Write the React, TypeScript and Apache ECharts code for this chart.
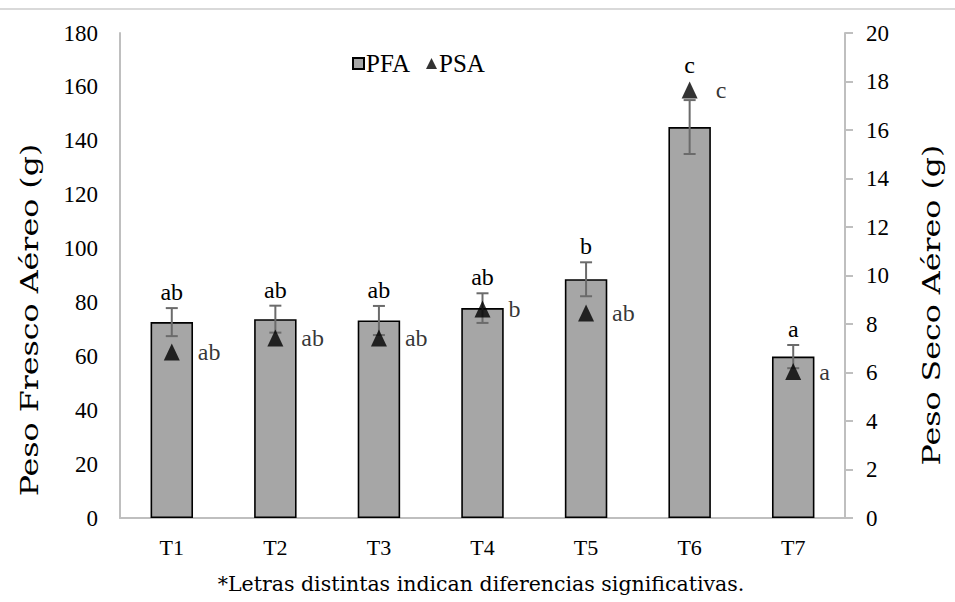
import React, { useEffect, useRef } from "react";
import * as echarts from "echarts";

const categories = ["T1", "T2", "T3", "T4", "T5", "T6", "T7"];
const pfaValues = [72.7, 73.8, 73.3, 77.9, 88.6, 145.1, 59.9];
const pfaErrors = [5.2, 5.0, 5.4, 5.5, 6.3, 10.0, 4.3];
const psaValues = [6.85, 7.42, 7.42, 8.62, 8.45, 17.65, 6.04];
const pfaLetters = ["ab", "ab", "ab", "ab", "b", "c", "a"];
const psaLetters = ["ab", "ab", "ab", "b", "ab", "c", "a"];
const leftTicksMax = 180;
const rightTicksMax = 20;

const SERIF = "Liberation Serif";
const TITLE_FONT = "DejaVu Serif";

export default function App() {
  const ref = useRef<HTMLDivElement>(null);
  useEffect(() => {
    if (!ref.current) return;
    const chart = echarts.init(ref.current, undefined, { renderer: "svg" });
    const ratio = leftTicksMax / rightTicksMax;
    const errData = categories.map((c, i) => [i, pfaValues[i], pfaErrors[i], psaValues[i] * ratio, i]);
    const option: any = {
      animation: false,
      backgroundColor: "#ffffff",
      textStyle: { fontFamily: SERIF },
      grid: { left: 120, right: 110, top: 33, bottom: 84, containLabel: false },
      legend: {
        data: [
          { name: "PFA", icon: "rect" },
          { name: "PSA", icon: "triangle" },
        ],
        left: 347,
        top: 46,
        itemWidth: 11,
        itemHeight: 11,
        itemGap: 16,
        textStyle: { fontFamily: SERIF, fontSize: 25, color: "#000", padding: [0, 0, 0, -3] },
      },
      xAxis: {
        type: "category",
        data: categories,
        axisLine: { show: true, lineStyle: { color: "#bfbfbf", width: 2 } },
        axisTick: { show: false },
        axisLabel: { fontFamily: SERIF, fontSize: 22, color: "#000", margin: 18 },
        splitLine: { show: false },
      },
      yAxis: [
        {
          type: "value",
          min: 0,
          max: leftTicksMax,
          interval: 20,
          axisLine: { show: true, lineStyle: { color: "#bfbfbf", width: 2 } },
          axisTick: { show: false },
          axisLabel: { fontFamily: SERIF, fontSize: 23, color: "#000", margin: 22 },
          splitLine: { show: false },
        },
        {
          type: "value",
          min: 0,
          max: rightTicksMax,
          interval: 2,
          position: "right",
          axisLine: { show: true, lineStyle: { color: "#bfbfbf", width: 2 } },
          axisTick: { show: true, length: 8, lineStyle: { color: "#bfbfbf", width: 2 } },
          axisLabel: { fontFamily: SERIF, fontSize: 23, color: "#000", margin: 21 },
          splitLine: { show: false },
        },
      ],
      series: [
        {
          name: "PFA",
          type: "bar",
          data: pfaValues,
          barWidth: "41%",
          itemStyle: { color: "#a6a6a6", borderColor: "#000", borderWidth: 1.6 },
          z: 2,
        },
        {
          name: "err",
          type: "custom",
          data: errData,
          encode: { x: 0, y: 1 },
          z: 3,
          renderItem: (params: any, api: any) => {
            const i = api.value(0);
            const v = api.value(1);
            const e = api.value(2);
            const psaScaled = api.value(3);
            const idx = api.value(4);
            const top = api.coord([i, v + e]);
            const bot = api.coord([i, v - e]);
            const tri = api.coord([i, psaScaled]);
            const x = top[0];
            const hw = 6;
            const style = { stroke: "#6b6b6b", lineWidth: 2 };
            const labelBottom = Math.min(top[1], tri[1] - 9) - 4;
            return {
              type: "group",
              children: [
                { type: "line", shape: { x1: x, y1: top[1], x2: x, y2: bot[1] }, style },
                { type: "line", shape: { x1: x - hw, y1: top[1], x2: x + hw, y2: top[1] }, style },
                { type: "line", shape: { x1: x - hw, y1: bot[1], x2: x + hw, y2: bot[1] }, style },
                {
                  type: "text",
                  x: x,
                  y: labelBottom,
                  style: {
                    text: pfaLetters[idx],
                    font: "24px " + SERIF,
                    fill: "#000",
                    textAlign: "center",
                    textVerticalAlign: "bottom",
                  },
                },
              ],
            };
          },
        },
        {
          name: "PSA",
          type: "scatter",
          yAxisIndex: 1,
          data: psaValues,
          symbol: "triangle",
          symbolSize: [16, 17],
          itemStyle: { color: "#000" },
          z: 4,
          label: {
            show: true,
            position: "right",
            distance: 18,
            formatter: (p: any) => psaLetters[p.dataIndex],
            fontFamily: SERIF,
            fontSize: 24,
            color: "#000",
          },
        },
      ],
      graphic: [
        {
          type: "line",
          shape: { x1: 0, y1: 9, x2: 955, y2: 9 },
          style: { stroke: "#d9d9d9", lineWidth: 2 },
        },
        {
          type: "text",
          x: 30,
          y: 320,
          rotation: Math.PI / 2,
          scaleX: 1.32,
          style: {
            text: "Peso Fresco Aéreo (g)",
            font: "24px " + TITLE_FONT,
            fill: "#000",
            textAlign: "center",
            textVerticalAlign: "middle",
          },
        },
        {
          type: "text",
          x: 932,
          y: 305,
          rotation: Math.PI / 2,
          scaleX: 1.32,
          style: {
            text: "Peso Seco Aéreo (g)",
            font: "24px " + TITLE_FONT,
            fill: "#000",
            textAlign: "center",
            textVerticalAlign: "middle",
          },
        },
        {
          type: "text",
          x: 481,
          y: 584,
          style: {
            text: "*Letras distintas indican diferencias significativas.",
            font: "20.5px " + TITLE_FONT,
            fill: "#000",
            textAlign: "center",
            textVerticalAlign: "middle",
          },
        },
      ],
    };
    chart.setOption(option);
    return () => chart.dispose();
  }, []);
  return (
    <div
      ref={ref}
      style={{ position: "absolute", left: 0, top: 0, width: 955, height: 602 }}
    />
  );
}
